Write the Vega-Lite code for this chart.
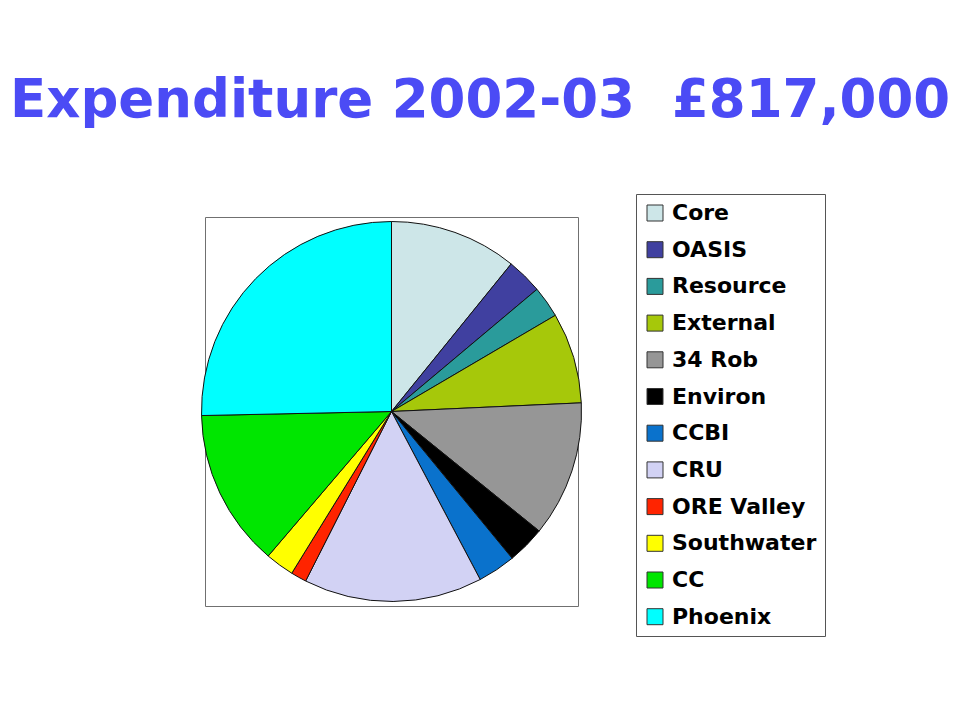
{
  "$schema": "https://vega.github.io/schema/vega-lite/v6.json",
  "width": 373,
  "height": 389,
  "autosize": {"type": "none"},
  "padding": {"left": 205, "top": 217, "right": 389, "bottom": 116},
  "background": "white",
  "view": {"stroke": "#707070", "strokeWidth": 1, "fill": "white"},
  "title": {
    "text": "Expenditure 2002-03\u00a0\u00a0£817,000",
    "anchor": "start",
    "frame": "group",
    "font": "DejaVu Sans",
    "fontWeight": "bold",
    "fontSize": 53,
    "color": "#4b4bf5",
    "dx": -195,
    "offset": 66
  },
  "data": {
    "values": [
      {"budget": "Core", "amount": 88.6, "rank": 1},
      {"budget": "OASIS", "amount": 24.8, "rank": 2},
      {"budget": "Resource", "amount": 21.8, "rank": 3},
      {"budget": "External", "amount": 63.1, "rank": 4},
      {"budget": "34 Rob", "amount": 94.4, "rank": 5},
      {"budget": "Environ", "amount": 26.3, "rank": 6},
      {"budget": "CCBI", "amount": 26.3, "rank": 7},
      {"budget": "CRU", "amount": 124.1, "rank": 8},
      {"budget": "ORE Valley", "amount": 10.9, "rank": 9},
      {"budget": "Southwater", "amount": 20.0, "rank": 10},
      {"budget": "CC", "amount": 109.6, "rank": 11},
      {"budget": "Phoenix", "amount": 207.0, "rank": 12}
    ]
  },
  "mark": {"type": "arc", "radius": 190, "stroke": "#111", "strokeWidth": 1},
  "encoding": {
    "theta": {"field": "amount", "type": "quantitative", "stack": true},
    "order": {"field": "rank", "type": "quantitative"},
    "color": {
      "field": "budget",
      "type": "nominal",
      "scale": {
        "domain": ["Core", "OASIS", "Resource", "External", "34 Rob", "Environ", "CCBI", "CRU", "ORE Valley", "Southwater", "CC", "Phoenix"],
        "range": ["#cde6e8", "#4040a0", "#2a9b9b", "#a6c80a", "#969696", "#000000", "#0a72cc", "#d2d2f4", "#ff2400", "#ffff00", "#00e600", "#00ffff"]
      },
      "legend": {
        "orient": "none",
        "legendX": 431,
        "legendY": -23,
        "title": null,
        "strokeColor": "#555",
        "fillColor": "white",
        "padding": 8,
        "labelFont": "DejaVu Sans",
        "labelFontWeight": "bold",
        "labelFontSize": 22,
        "labelColor": "black",
        "symbolType": "square",
        "symbolSize": 256,
        "symbolStrokeColor": "#333",
        "symbolStrokeWidth": 1,
        "symbolOpacity": 1,
        "rowPadding": 14.7,
        "labelOffset": 6,
        "labelLimit": 300
      }
    }
  }
}
